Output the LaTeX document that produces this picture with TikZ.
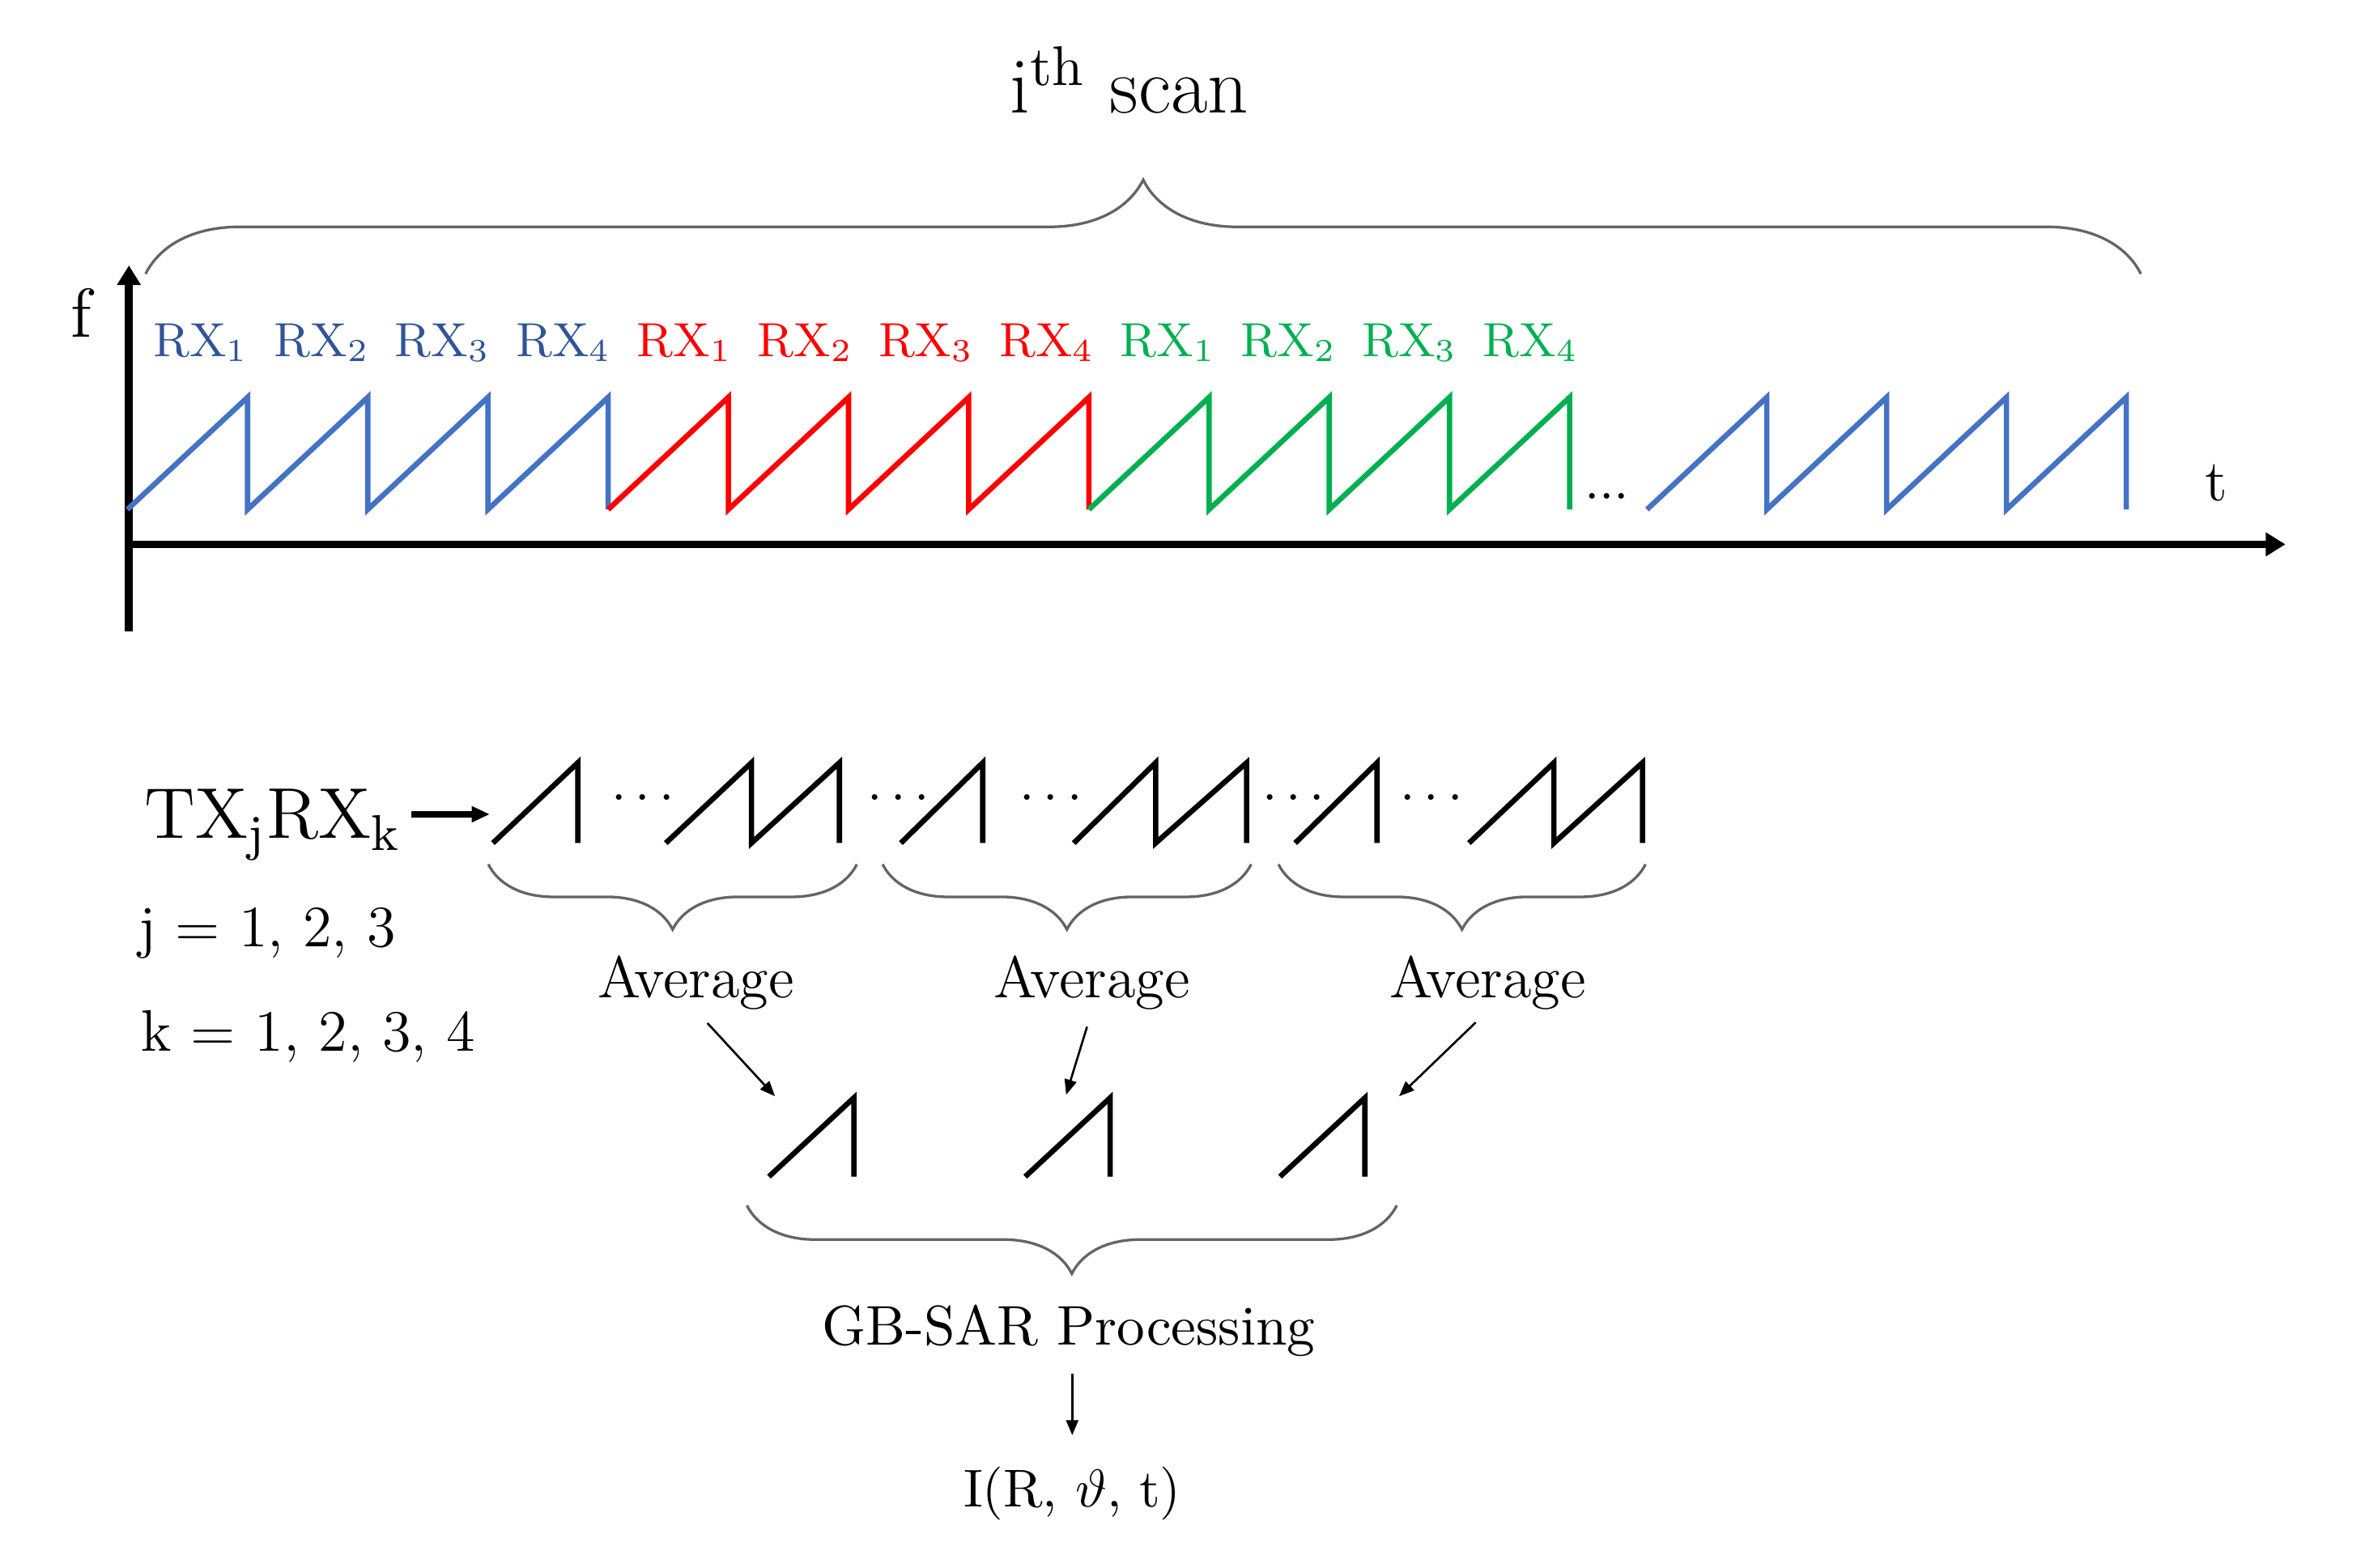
\documentclass[tikz,border=0pt]{standalone}
\usetikzlibrary{arrows.meta,decorations.pathreplacing}
\definecolor{rxblue}{RGB}{68,114,196}
\definecolor{rxbluetext}{RGB}{47,85,151}
\definecolor{rxred}{RGB}{255,0,0}
\definecolor{rxgreen}{RGB}{0,176,80}
\definecolor{bracegray}{RGB}{100,100,100}
\tikzset{
  axis/.style={line width=1.5pt,-{Triangle[length=1.3mm,width=1.5mm]}},
  chirp/.style={line width=1pt},
  upbrace/.style={decorate,decoration={brace,amplitude=#1},draw=bracegray,line width=0.5pt},
  downbrace/.style={decorate,decoration={brace,mirror,amplitude=#1},draw=bracegray,line width=0.5pt},
  thinarrow/.style={line width=0.4pt,-{Triangle[length=1mm,width=0.8mm]}},
  txt/.style={anchor=base,inner sep=0pt,font=\fontsize{#1}{#1}\selectfont},
}
\begin{document}
\begin{tikzpicture}[x=0.1mm,y=-0.1mm]
  \useasboundingbox (0,0) rectangle (1568,1034);
  \node[txt=15] (title) at (744.7,74.7) {i\textsuperscript{th} scan};
  \draw[upbrace=6.2mm] (96,180.6) -- (1411.6,180.6);

  \coordinate (fbot) at (85,416.5);
  \coordinate (ftop) at (85,175);
  \coordinate (orig) at (85,359);
  \coordinate (tend) at (1507,359);
  \draw[axis] (fbot) -- (ftop);
  \draw[axis] (orig) -- (tend);
  \node[txt=13] (f) at (53.5,222.6) {f};
  \node[txt=11] (t) at (1461.5,330) {t};

  \begin{scope}[txt=9]
    \node[text=rxbluetext] (b1) at (132.6,235) {RX\textsubscript{1}};
    \node[text=rxbluetext] (b2) at (212.3,235) {RX\textsubscript{2}};
    \node[text=rxbluetext] (b3) at (292.0,235) {RX\textsubscript{3}};
    \node[text=rxbluetext] (b4) at (371.7,235) {RX\textsubscript{4}};
    \node[text=rxred] (r1) at (451.4,235) {RX\textsubscript{1}};
    \node[text=rxred] (r2) at (531.1,235) {RX\textsubscript{2}};
    \node[text=rxred] (r3) at (610.8,235) {RX\textsubscript{3}};
    \node[text=rxred] (r4) at (690.5,235) {RX\textsubscript{4}};
    \node[text=rxgreen] (g1) at (770.2,235) {RX\textsubscript{1}};
    \node[text=rxgreen] (g2) at (849.9,235) {RX\textsubscript{2}};
    \node[text=rxgreen] (g3) at (929.6,235) {RX\textsubscript{3}};
    \node[text=rxgreen] (g4) at (1009.3,235) {RX\textsubscript{4}};
  \end{scope}

  \draw[chirp,rxblue] (84,336) -- (163.25,262) -- (163.25,336) -- (242.5,262) -- (242.5,336)
    -- (321.75,262) -- (321.75,336) -- (401,262) -- (401,336);
  \draw[chirp,rxred] (401,336) -- (480.25,262) -- (480.25,336) -- (559.5,262) -- (559.5,336)
    -- (638.75,262) -- (638.75,336) -- (718,262) -- (718,336);
  \draw[chirp,rxgreen] (718,336) -- (797.25,262) -- (797.25,336) -- (876.5,262) -- (876.5,336)
    -- (955.75,262) -- (955.75,336) -- (1035,262) -- (1035,336);
  \node[txt=10] (gap) at (1059.5,329) {...};
  \draw[chirp,rxblue] (1086,336) -- (1165,262) -- (1165,336) -- (1244,262) -- (1244,336)
    -- (1323,262) -- (1323,336) -- (1402,262) -- (1402,336);

  \node[txt=13.5,anchor=base west] (txrx) at (94.5,553) {TX\textsubscript{j}RX\textsubscript{k}};
  \node[txt=11,anchor=base west] (jidx) at (90.8,624.5) {j = 1, 2, 3};
  \node[txt=11,anchor=base west] (kidx) at (92.7,693) {k = 1, 2, 3, 4};
  \coordinate (chirp0) at (323,537);
  \draw[line width=1.2pt,-{Triangle[length=1.2mm,width=1mm]},shorten <=0.6mm] (txrx.east |- chirp0) -- (chirp0);

  \draw[chirp] (325,556) -- (381,503) -- (381,556);
  \draw[chirp] (439,556) -- (495.5,503) -- (495.5,556) -- (553.5,503) -- (553.5,556);
  \draw[chirp] (594,556) -- (648,503) -- (648,556);
  \draw[chirp] (708,556) -- (762,503) -- (762,556) -- (822,503) -- (822,556);
  \draw[chirp] (854,556) -- (908,503) -- (908,556);
  \draw[chirp] (968.6,556) -- (1024.6,503) -- (1024.6,556) -- (1083,503) -- (1083,556);
  \begin{scope}[inner sep=0pt,font=\fontsize{10}{10}\selectfont]
    \node (d1) at (424,527) {$\cdots$};
    \node (d2) at (592.5,527) {$\cdots$};
    \node (d3) at (693,527) {$\cdots$};
    \node (d4) at (853,527) {$\cdots$};
    \node (d5) at (944,527) {$\cdots$};
  \end{scope}

  \draw[downbrace=4.3mm] (322,570) -- (565,570);
  \draw[downbrace=4.3mm] (582,570) -- (825,570);
  \draw[downbrace=4.3mm] (843,570) -- (1085,570);
  \node[txt=11] (avg1) at (459,658) {Average};
  \node[txt=11] (avg2) at (720,658) {Average};
  \node[txt=11] (avg3) at (981,658) {Average};

  \coordinate (m1) at (511,723);
  \coordinate (m2) at (703,722);
  \coordinate (m3) at (922.5,723);
  \draw[thinarrow,shorten <=1.1mm] (avg1.south) -- (m1);
  \draw[thinarrow,shorten <=1.1mm] (avg2.south) -- (m2);
  \draw[thinarrow,shorten <=1.1mm] (avg3.south) -- (m3);

  \draw[chirp] (507,776) -- (563,724) -- (563,776);
  \draw[chirp] (676,776) -- (732,724) -- (732,776);
  \draw[chirp] (844,776) -- (900,724) -- (900,776);

  \draw[downbrace=4.5mm] (492.5,795) -- (921,795);
  \node[txt=10.5] (gbsar) at (704.6,886.8) {GB-SAR Processing};
  \node[txt=10] (img) at (707,993.6) {I(R, $\vartheta$, t)};
  \draw[thinarrow,shorten <=1.1mm,shorten >=2mm] (gbsar.south -| img.north) -- (img.north);
\end{tikzpicture}
\end{document}
